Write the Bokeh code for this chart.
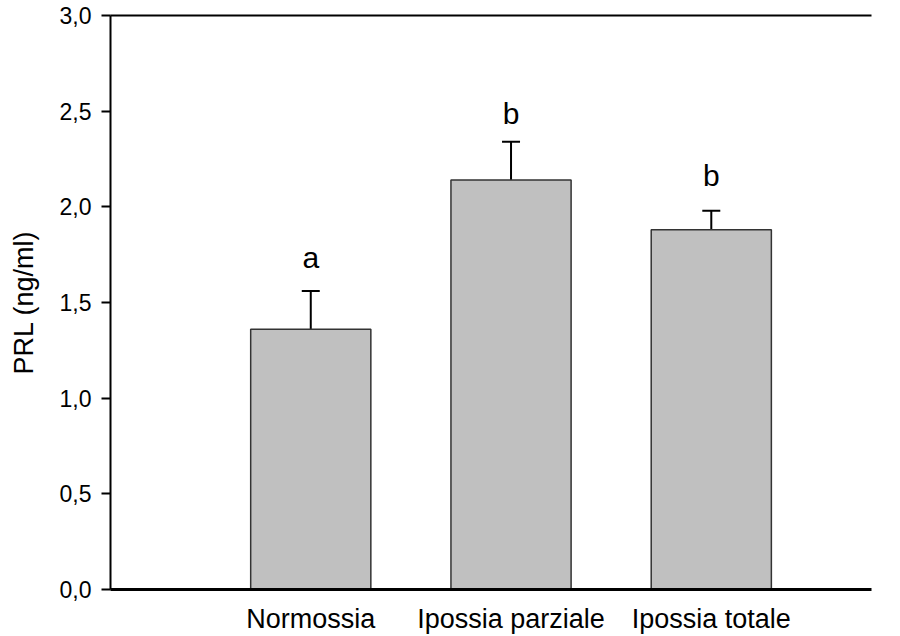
from bokeh.plotting import figure
from bokeh.models import (ColumnDataSource, FixedTicker, CustomJSTickFormatter,
                          Whisker, TeeHead, LinearAxis)
from bokeh.core.properties import value
from bokeh.embed import file_html
from bokeh.resources import INLINE

# Prolactin levels per condition (mean and upper error)
groups = ["Normossia", "Ipossia parziale", "Ipossia totale"]
prl_mean = [1.36, 2.14, 1.88]
prl_err = [0.20, 0.20, 0.10]
sig_letters = ["a", "b", "b"]
letter_y = [1.65, 2.40, 2.08]
y_ticks = [0.0, 0.5, 1.0, 1.5, 2.0, 2.5, 3.0]

xs = [i + 1 for i in range(len(groups))]
src = ColumnDataSource(dict(
    x=xs,
    mean=prl_mean,
    upper=[m + e for m, e in zip(prl_mean, prl_err)],
    letter=sig_letters,
    letter_y=letter_y,
))

FONT = "Liberation Sans"

p = figure(width=900, height=636, output_backend="svg", toolbar_location=None,
           x_range=(0, 3.8), y_range=(0, 3.0),
           min_border_left=110, min_border_right=29,
           min_border_top=15, min_border_bottom=46)
p.grid.visible = False
p.outline_line_color = None
p.background_fill_color = "white"
p.border_fill_color = "white"

p.vbar(x="x", top="mean", bottom=0, width=0.6, source=src,
       fill_color="#c0c0c0", line_color="#333333", line_width=1.5)

whisk = Whisker(base="x", lower="mean", upper="upper", source=src,
                line_color="black", line_width=2,
                upper_head=TeeHead(size=18, line_color="black", line_width=2),
                lower_head=None)
p.add_layout(whisk)

# significance letters above each bar
p.text(x="x", y="letter_y", text="letter", source=src,
       text_align="center", text_baseline="bottom",
       text_font=value(FONT), text_font_size="30px", text_color="black")

# y axis
yax = p.left[0]
yax.ticker = FixedTicker(ticks=y_ticks)
yax.formatter = CustomJSTickFormatter(code="return tick.toFixed(1).replace('.', ',');")
yax.axis_label = "PRL (ng/ml)"
yax.axis_label_text_font = FONT
yax.axis_label_text_font_size = "27px"
yax.axis_label_text_font_style = "normal"
yax.axis_label_text_color = "black"
yax.axis_label_standoff = 18
yax.major_label_text_font = FONT
yax.major_label_text_font_size = "23px"
yax.major_label_text_color = "black"
yax.major_label_standoff = 10
yax.major_tick_out = 9
yax.major_tick_in = 0
yax.major_tick_line_width = 2
yax.minor_tick_line_color = None
yax.axis_line_width = 2
yax.axis_line_color = "black"

# x axis with group names
xax = p.below[0]
xax.ticker = FixedTicker(ticks=xs)
xax.major_label_overrides = {x: g for x, g in zip(xs, groups)}
xax.major_label_text_font = FONT
xax.major_label_text_font_size = "27px"
xax.major_label_text_color = "black"
xax.major_label_standoff = 8
xax.major_tick_line_color = None
xax.minor_tick_line_color = None
xax.axis_line_width = 3
xax.axis_line_color = "black"

# top frame line: a bare axis with no ticks or labels
top = LinearAxis(ticker=FixedTicker(ticks=[]), axis_line_width=2,
                 axis_line_color="black", major_tick_line_color=None,
                 minor_tick_line_color=None, major_label_text_font_size="0px",
                 major_label_standoff=0)
p.add_layout(top, "above")

open("out.html", "w").write(file_html(p, INLINE))
